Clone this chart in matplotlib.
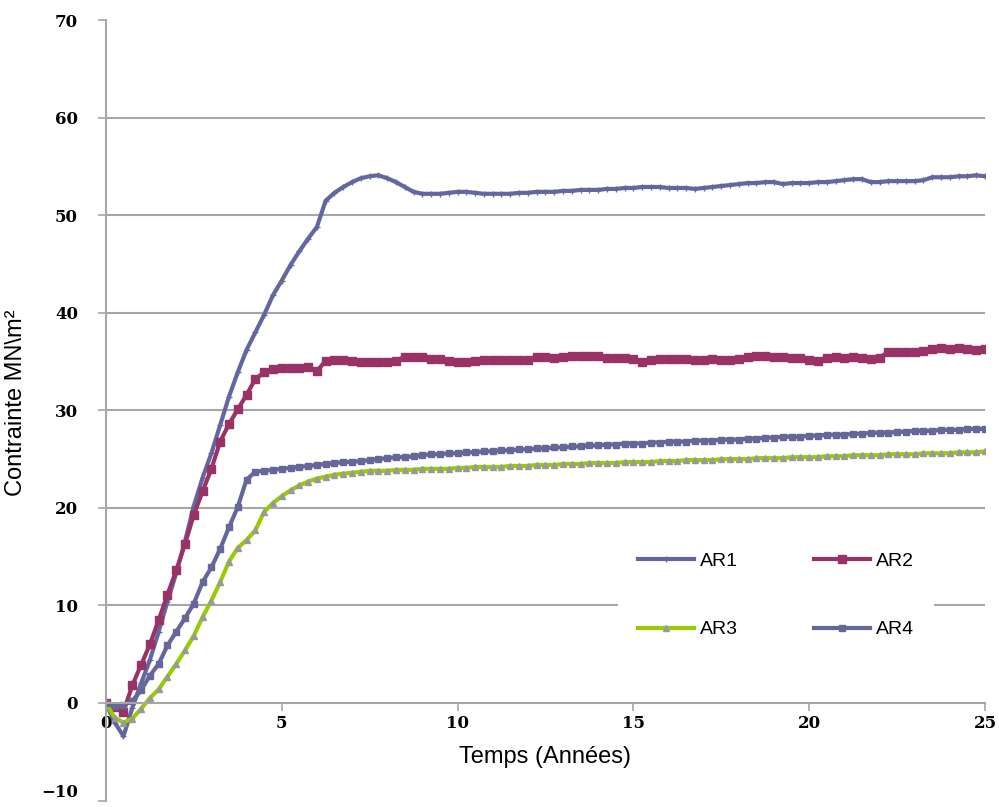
import matplotlib.pyplot as plt

# time axis (years), one reading every 0.25 year
temps = [i * 0.25 for i in range(101)]

ar1 = [0.0, -2.0, -3.4, -0.5, 2.0, 4.4, 7.3, 10.4, 13.3, 16.6,
       20.2, 23.1, 25.6, 28.5, 31.4, 33.9, 36.2, 38.0, 39.8, 41.8,
       43.3, 44.9, 46.3, 47.6, 48.8, 51.5, 52.3, 52.9, 53.4, 53.8,
       54.0, 54.1, 53.8, 53.4, 52.9, 52.4, 52.2, 52.2, 52.2, 52.3,
       52.4, 52.4, 52.3, 52.2, 52.2, 52.2, 52.2, 52.3, 52.3, 52.4,
       52.4, 52.4, 52.5, 52.5, 52.6, 52.6, 52.6, 52.7, 52.7, 52.8,
       52.8, 52.9, 52.9, 52.9, 52.8, 52.8, 52.8, 52.7, 52.8, 52.9,
       53.0, 53.1, 53.2, 53.3, 53.3, 53.4, 53.4, 53.2, 53.3, 53.3,
       53.3, 53.4, 53.4, 53.5, 53.6, 53.7, 53.7, 53.4, 53.4, 53.5,
       53.5, 53.5, 53.5, 53.6, 53.9, 53.9, 53.9, 54.0, 54.0, 54.1,
       54.0]

ar2 = [0.0, -0.4, -0.9, 1.8, 3.9, 6.0, 8.5, 11.1, 13.6, 16.3,
       19.3, 21.7, 24.0, 26.8, 28.6, 30.1, 31.6, 33.2, 33.9, 34.2,
       34.3, 34.3, 34.3, 34.4, 34.0, 35.1, 35.2, 35.2, 35.1, 35.0,
       35.0, 35.0, 35.0, 35.1, 35.5, 35.5, 35.5, 35.3, 35.3, 35.1,
       35.0, 35.0, 35.1, 35.2, 35.2, 35.2, 35.2, 35.2, 35.2, 35.5,
       35.5, 35.4, 35.5, 35.6, 35.6, 35.6, 35.6, 35.4, 35.4, 35.4,
       35.3, 35.0, 35.2, 35.3, 35.3, 35.3, 35.3, 35.2, 35.2, 35.3,
       35.2, 35.2, 35.3, 35.5, 35.6, 35.6, 35.5, 35.5, 35.4, 35.4,
       35.2, 35.1, 35.4, 35.5, 35.4, 35.5, 35.4, 35.3, 35.4, 36.0,
       36.0, 36.0, 36.0, 36.1, 36.3, 36.4, 36.3, 36.4, 36.3, 36.2,
       36.3]

ar3 = [0.0, -1.5, -2.0, -1.6, -0.6, 0.5, 1.4, 2.7, 4.0, 5.4,
       6.9, 8.8, 10.5, 12.4, 14.5, 15.9, 16.7, 17.7, 19.6, 20.5,
       21.2, 21.8, 22.3, 22.7, 23.0, 23.2, 23.4, 23.5, 23.6, 23.7,
       23.8, 23.8, 23.8, 23.9, 23.9, 23.9, 24.0, 24.0, 24.0, 24.0,
       24.1, 24.1, 24.2, 24.2, 24.2, 24.2, 24.3, 24.3, 24.3, 24.4,
       24.4, 24.4, 24.5, 24.5, 24.5, 24.6, 24.6, 24.6, 24.6, 24.7,
       24.7, 24.7, 24.7, 24.8, 24.8, 24.8, 24.9, 24.9, 24.9, 24.9,
       25.0, 25.0, 25.0, 25.0, 25.1, 25.1, 25.1, 25.1, 25.2, 25.2,
       25.2, 25.2, 25.3, 25.3, 25.3, 25.4, 25.4, 25.4, 25.4, 25.5,
       25.5, 25.5, 25.5, 25.6, 25.6, 25.6, 25.6, 25.7, 25.7, 25.7,
       25.8]

ar4 = [0.0, -0.3, -0.2, 0.2, 1.3, 2.8, 4.0, 5.9, 7.3, 8.7,
       10.2, 12.4, 13.9, 15.8, 18.0, 20.1, 22.9, 23.7, 23.8, 23.9,
       24.0, 24.1, 24.2, 24.3, 24.4, 24.5, 24.6, 24.7, 24.7, 24.8,
       24.9, 25.0, 25.1, 25.2, 25.2, 25.3, 25.4, 25.5, 25.5, 25.6,
       25.6, 25.7, 25.7, 25.8, 25.8, 25.9, 25.9, 26.0, 26.0, 26.1,
       26.1, 26.2, 26.2, 26.3, 26.3, 26.4, 26.4, 26.5, 26.5, 26.6,
       26.6, 26.6, 26.7, 26.7, 26.8, 26.8, 26.8, 26.9, 26.9, 26.9,
       27.0, 27.0, 27.0, 27.1, 27.1, 27.2, 27.2, 27.3, 27.3, 27.3,
       27.4, 27.4, 27.5, 27.5, 27.5, 27.6, 27.6, 27.7, 27.7, 27.7,
       27.8, 27.8, 27.9, 27.9, 27.9, 28.0, 28.0, 28.0, 28.1, 28.1,
       28.1]

x_ticks = [0, 5, 10, 15, 20, 25]
y_ticks = [-10, 0, 10, 20, 30, 40, 50, 60, 70]

fig = plt.figure(figsize=(9.99, 8.07), dpi=100)
ax = fig.add_axes([0.106, 0.008, 0.88, 0.967])

# horizontal grid lines (not at the top/bottom limits)
for v in y_ticks[2:-1]:
    ax.axhline(v, color='#a6a6a6', linewidth=1.5, zorder=0)

l1, = ax.plot(temps, ar1, color='#6466a0', linewidth=3, marker='+', markersize=4,
              markeredgewidth=1, label='AR1')
l2, = ax.plot(temps, ar2, color='#993366', linewidth=3, marker='s', markersize=6,
              label='AR2')
l3, = ax.plot(temps, ar3, color='#99cc00', linewidth=3, marker='^', markersize=5,
              markerfacecolor='#999999', markeredgecolor='#999999', label='AR3')
l4, = ax.plot(temps, ar4, color='#666699', linewidth=3, marker='s', markersize=5,
              label='AR4')

ax.set_xlim(0, 25)
ax.set_ylim(-10, 70)
ax.set_xticks(x_ticks)
ax.set_yticks(y_ticks)

for s in ['top', 'right']:
    ax.spines[s].set_visible(False)
ax.spines['bottom'].set_position(('data', 0))
ax.spines['bottom'].set_color('#a6a6a6')
ax.spines['left'].set_color('#a6a6a6')
ax.spines['bottom'].set_linewidth(1.5)
ax.spines['left'].set_linewidth(1.5)
ax.tick_params(axis='both', direction='out', length=6, width=1.2,
               color='#a6a6a6', labelsize=12)
ax.tick_params(axis='x', pad=3)
ax.tick_params(axis='y', pad=14)
for lab in ax.get_xticklabels() + ax.get_yticklabels():
    lab.set_fontfamily('DejaVu Serif')
    lab.set_fontweight('bold')
# the -10 label sits at the very bottom edge, nudge it up a little
ax.get_yticklabels()[0].set_verticalalignment('bottom')

ax.set_xlabel('Temps (Années)', fontfamily='Liberation Sans', fontsize=17)
ax.xaxis.set_label_coords(0.5, 0.07)
ax.set_ylabel('Contrainte MN\\m²', fontfamily='Liberation Sans', fontsize=17)
ax.yaxis.set_label_coords(-0.09, 0.51)

# column-wise fill: AR1/AR3 left column, AR2/AR4 right column
leg = ax.legend([l1, l3, l2, l4], ['AR1', 'AR3', 'AR2', 'AR4'], ncol=2,
                loc='upper left', bbox_to_anchor=(0.572, 0.355),
                frameon=True, facecolor='white', edgecolor='none', framealpha=1,
                fancybox=False, handlelength=2.9, labelspacing=2.6,
                columnspacing=3.9, handletextpad=0.3, borderpad=1.0,
                prop={'family': 'Liberation Sans', 'size': 14})

fig.savefig('out.png', dpi=100)
